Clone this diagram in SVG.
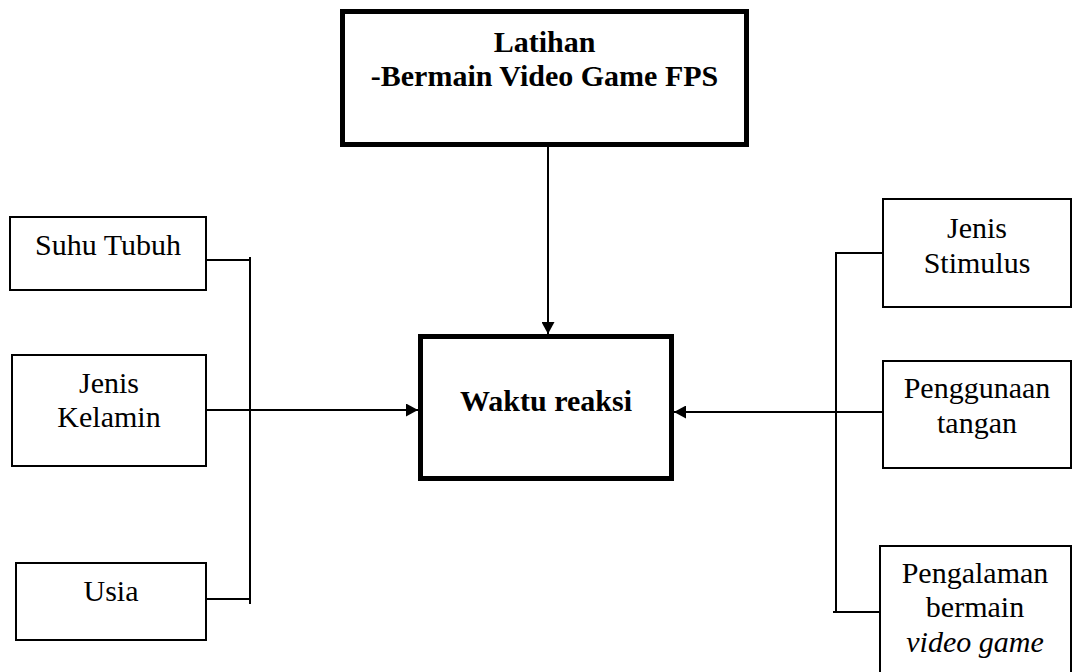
<svg xmlns="http://www.w3.org/2000/svg" width="1073" height="672" viewBox="0 0 1073 672">
<style>
.thick{fill:#fff;stroke:#000;stroke-width:5}
.thin{fill:#fff;stroke:#000;stroke-width:2}
.ln{fill:none;stroke:#000;stroke-width:2}
text{font-family:"Liberation Serif","Times New Roman",serif;font-size:30px;fill:#000;text-anchor:middle}
.b{font-weight:bold}
.i{font-style:italic}
</style>
<defs>
<marker id="ah" markerWidth="12" markerHeight="13" refX="12" refY="6.5" orient="auto" markerUnits="userSpaceOnUse">
<path d="M0,0 L12,6.5 L0,13 Z" fill="#000"/>
</marker>
</defs>
<g id="connectors">
<line class="ln" x1="548" y1="147" x2="548" y2="334" marker-end="url(#ah)"/>
<polyline class="ln" points="206,260 250,260"/>
<line class="ln" x1="250" y1="257" x2="250" y2="604"/>
<polyline class="ln" points="206,599 250,599"/>
<line class="ln" x1="206" y1="410" x2="418" y2="410" marker-end="url(#ah)"/>
<line class="ln" x1="837" y1="253" x2="883" y2="253"/>
<line class="ln" x1="836" y1="252" x2="836" y2="612"/>
<line class="ln" x1="833" y1="612" x2="880" y2="612"/>
<line class="ln" x1="883" y1="412" x2="674" y2="412" marker-end="url(#ah)"/>
</g>
<g id="latihan">
<rect class="thick" x="342.5" y="11.5" width="404" height="133"/>
<text class="b" x="544.5" y="52">Latihan</text>
<text class="b" x="544.5" y="86">-Bermain Video Game FPS</text>
</g>
<g id="waktu">
<rect class="thick" x="420.5" y="336.5" width="251" height="142"/>
<text class="b" x="546" y="411">Waktu reaksi</text>
</g>
<g id="suhu">
<rect class="thin" x="10" y="217" width="196" height="73"/>
<text x="108" y="255">Suhu Tubuh</text>
</g>
<g id="kelamin">
<rect class="thin" x="12" y="355" width="194" height="111"/>
<text x="109" y="393">Jenis</text>
<text x="109" y="427">Kelamin</text>
</g>
<g id="usia">
<rect class="thin" x="16" y="563" width="190" height="77"/>
<text x="111" y="601">Usia</text>
</g>
<g id="stimulus">
<rect class="thin" x="883" y="199" width="188" height="108"/>
<text x="977" y="238">Jenis</text>
<text x="977" y="273">Stimulus</text>
</g>
<g id="tangan">
<rect class="thin" x="883" y="361" width="188" height="107"/>
<text x="977" y="398">Penggunaan</text>
<text x="977" y="433">tangan</text>
</g>
<g id="pengalaman">
<rect class="thin" x="880" y="546" width="191" height="140"/>
<text x="975" y="583">Pengalaman</text>
<text x="975" y="617">bermain</text>
<text class="i" x="975" y="652">video game</text>
</g>
</svg>
